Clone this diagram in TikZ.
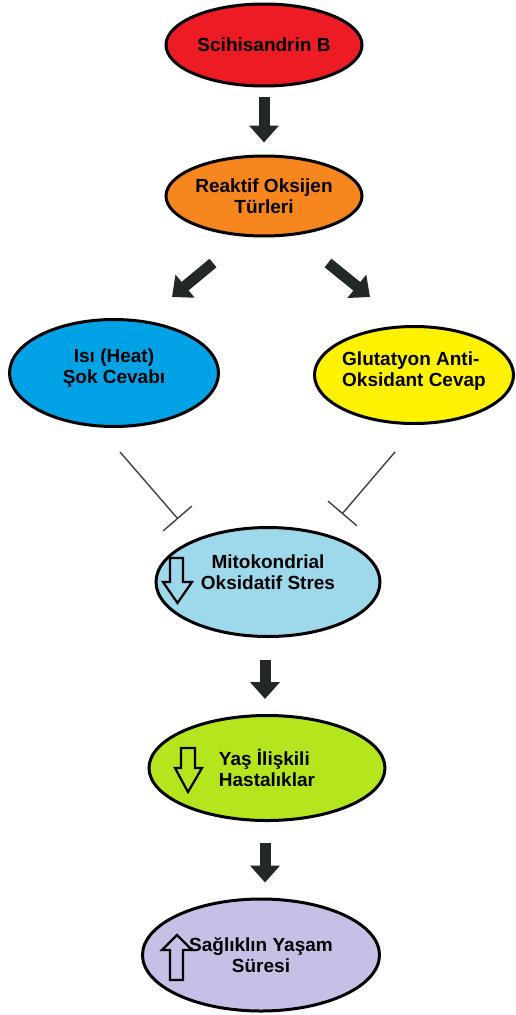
\documentclass[tikz,border=0pt]{standalone}
\usepackage{fontspec}
\setmainfont{Liberation Sans}
\usetikzlibrary{shapes.geometric,arrows.meta}

\definecolor{scbred}{HTML}{ED1C24}
\definecolor{rosorange}{HTML}{F7861F}
\definecolor{heatblue}{HTML}{00A2E6}
\definecolor{glyellow}{HTML}{FFF200}
\definecolor{mitoblue}{HTML}{9DD9EA}
\definecolor{agegreen}{HTML}{B5E61D}
\definecolor{lifepurple}{HTML}{C8BFE7}
\definecolor{arrowdark}{HTML}{222828}

\tikzset{
  bubble/.style={ellipse, draw=black, line width=3pt, inner sep=0pt,
    font=\fontsize{19}{20.5}\selectfont\bfseries, align=center},
  bigarrow/.style={draw=arrowdark, line width=11pt,
    -{Triangle[width=29pt,length=17pt]}},
  inhib/.style={draw=black!75, line width=1.4pt, -{Bar[width=38pt,line width=1.4pt]}},
  hollow/.style={draw=black, line width=2.2pt, line join=miter}
}

\begin{document}
\begin{tikzpicture}[x=1pt,y=-1pt]
\useasboundingbox (0,0) rectangle (515,1015);

% nodes
\node[bubble, fill=scbred, minimum width=196pt, minimum height=82pt] (scb) at (264,45) {Scihisandrin B};
\node[bubble, fill=rosorange, minimum width=196pt, minimum height=80pt] (ros) at (264,196) {Reaktif Oksijen\\Türleri};
\node[bubble, fill=heatblue, minimum width=209pt, minimum height=107pt, text depth=14pt] (hsr) at (114,373) {Isı (Heat)\\Şok Cevabı};
\node[bubble, fill=glyellow, minimum width=199pt, minimum height=97pt, inner xsep=-5pt, text depth=12pt, align=left] (gar) at (414,375) {Glutatyon Anti-\\Oksidant Cevap};
\node[bubble, fill=mitoblue, minimum width=224pt, minimum height=109pt, text depth=20pt] (mos) at (268,582) {Mitokondrial\\Oksidatif Stres};
\node[bubble, fill=agegreen, minimum width=236pt, minimum height=105pt, align=left] (yih) at (267,768) {Yaş İlişkili\\Hastalıklar};
\node[bubble, fill=lifepurple, minimum width=237pt, minimum height=112pt] (syd) at (261,955) {Sağlıklın Yaşam\\Süresi};

% free ends
\coordinate (rl1) at (213,263);
\coordinate (rl2) at (172,297);
\coordinate (rr1) at (328,263);
\coordinate (rr2) at (370,297);
\coordinate (hl1) at (120,452);
\coordinate (hl2) at (178,519);
\coordinate (gl1) at (395,452);
\coordinate (gl2) at (342,514);

% arrows
\draw[bigarrow, shorten <=9pt, shorten >=12pt] (scb.south) -- (scb.south |- ros.north);
\draw[bigarrow] (rl1) -- (rl2);
\draw[bigarrow] (rr1) -- (rr2);
\draw[inhib] (hl1) -- (hl2);
\draw[inhib] (gl1) -- (gl2);
\draw[bigarrow, shorten <=22pt, shorten >=15pt] ([xshift=-3pt]mos.south) -- ([xshift=-3pt]mos.south |- yih.north);
\draw[bigarrow, shorten <=21pt, shorten >=15pt] ([xshift=-2pt]yih.south) -- ([xshift=-2pt]yih.south |- syd.north);

% hollow arrows
\draw[hollow] (170,558) -- (183,558) -- (183,582) -- (192,582) -- (177.5,603) -- (163,582) -- (170,582) -- cycle;
\draw[hollow] (181,748) -- (195,748) -- (195,768) -- (202,768) -- (188,792) -- (175,768) -- (181,768) -- cycle;
\draw[hollow] (170,980) -- (183,980) -- (183,950) -- (192,950) -- (177,935) -- (162,950) -- (170,950) -- cycle;
\end{tikzpicture}
\end{document}
